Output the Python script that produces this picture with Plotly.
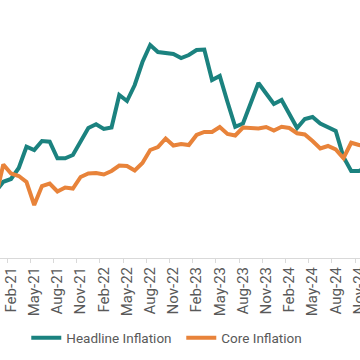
import plotly.graph_objects as go

months = [
    "Dec-20",
    "Jan-21", "Feb-21", "Mar-21", "Apr-21", "May-21", "Jun-21", "Jul-21", "Aug-21", "Sep-21", "Oct-21", "Nov-21", "Dec-21",
    "Jan-22", "Feb-22", "Mar-22", "Apr-22", "May-22", "Jun-22", "Jul-22", "Aug-22", "Sep-22", "Oct-22", "Nov-22", "Dec-22",
    "Jan-23", "Feb-23", "Mar-23", "Apr-23", "May-23", "Jun-23", "Jul-23", "Aug-23", "Sep-23", "Oct-23", "Nov-23", "Dec-23",
    "Jan-24", "Feb-24", "Mar-24", "Apr-24", "May-24", "Jun-24", "Jul-24", "Aug-24", "Sep-24", "Oct-24", "Nov-24", "Dec-24",
]

headline = [
    2.65,
    3.05, 3.16, 3.60, 4.45, 4.32, 4.68, 4.65, 3.99, 3.99, 4.12, 4.65, 5.20,
    5.35, 5.16, 5.22, 6.52, 6.28, 6.92, 7.84, 8.52, 8.24, 8.22, 8.16, 8.00,
    8.12, 8.32, 8.34, 7.12, 7.28, 6.24, 5.25, 5.38, 6.20, 7.00, 6.58, 6.16,
    6.32, 5.76, 5.20, 5.56, 5.64, 5.38, 5.22, 5.08, 4.04, 3.48, 3.48, 3.64,
]

core = [
    2.40,
    3.74, 3.38, 3.28, 3.04, 2.12, 2.88, 2.98, 2.66, 2.82, 2.78, 3.24, 3.38,
    3.40, 3.34, 3.48, 3.70, 3.68, 3.50, 3.80, 4.32, 4.44, 4.78, 4.50, 4.56,
    4.52, 4.92, 5.04, 5.04, 5.24, 4.96, 4.90, 5.22, 5.22, 5.18, 5.24, 5.10,
    5.25, 5.20, 4.99, 4.94, 4.68, 4.38, 4.48, 4.34, 3.99, 4.61, 4.52, 4.48,
]

tick_labels = [
    "Feb-21", "May-21", "Aug-21", "Nov-21",
    "Feb-22", "May-22", "Aug-22", "Nov-22",
    "Feb-23", "May-23", "Aug-23", "Nov-23",
    "Feb-24", "May-24", "Aug-24", "Nov-24",
]

TEAL = "#1B827F"
ORANGE = "#E8833A"
GRAY = "#595959"

fig = go.Figure()
fig.add_trace(go.Scatter(x=months, y=headline, mode="lines", name="Headline Inflation",
                         line=dict(color=TEAL, width=4)))
fig.add_trace(go.Scatter(x=months, y=core, mode="lines", name="Core Inflation",
                         line=dict(color=ORANGE, width=4)))

fig.update_layout(
    width=360, height=360,
    margin=dict(l=0, r=0, t=0, b=102, autoexpand=False),
    plot_bgcolor="white", paper_bgcolor="white",
    showlegend=True,
    legend=dict(orientation="h", x=0.073, xanchor="left", y=-0.31, yanchor="middle",
                font=dict(family="Roboto", size=13.5, color=GRAY),
                entrywidth=110, entrywidthmode="pixels", bgcolor="rgba(0,0,0,0)"),
    font=dict(family="Roboto", color=GRAY),
)
fig.update_xaxes(
    type="category", categoryorder="array", categoryarray=months,
    range=[0.573, 47.14],
    tickson="boundaries", tickmode="array", tickvals=tick_labels, ticktext=tick_labels,
    tickangle=-90, ticks="outside", ticklen=4, tickcolor="#d9d9d9",
    showline=True, linecolor="#d9d9d9", linewidth=1, showgrid=False,
    ticklabelstandoff=2,
    tickfont=dict(family="Roboto", size=15, color=GRAY),
)
fig.update_yaxes(range=[0, 10.32], visible=False, showgrid=False, zeroline=False)

fig.write_html("out.html", config={"displayModeBar": False},
               post_script="document.body.style.margin='0';document.body.style.overflow='hidden';")
